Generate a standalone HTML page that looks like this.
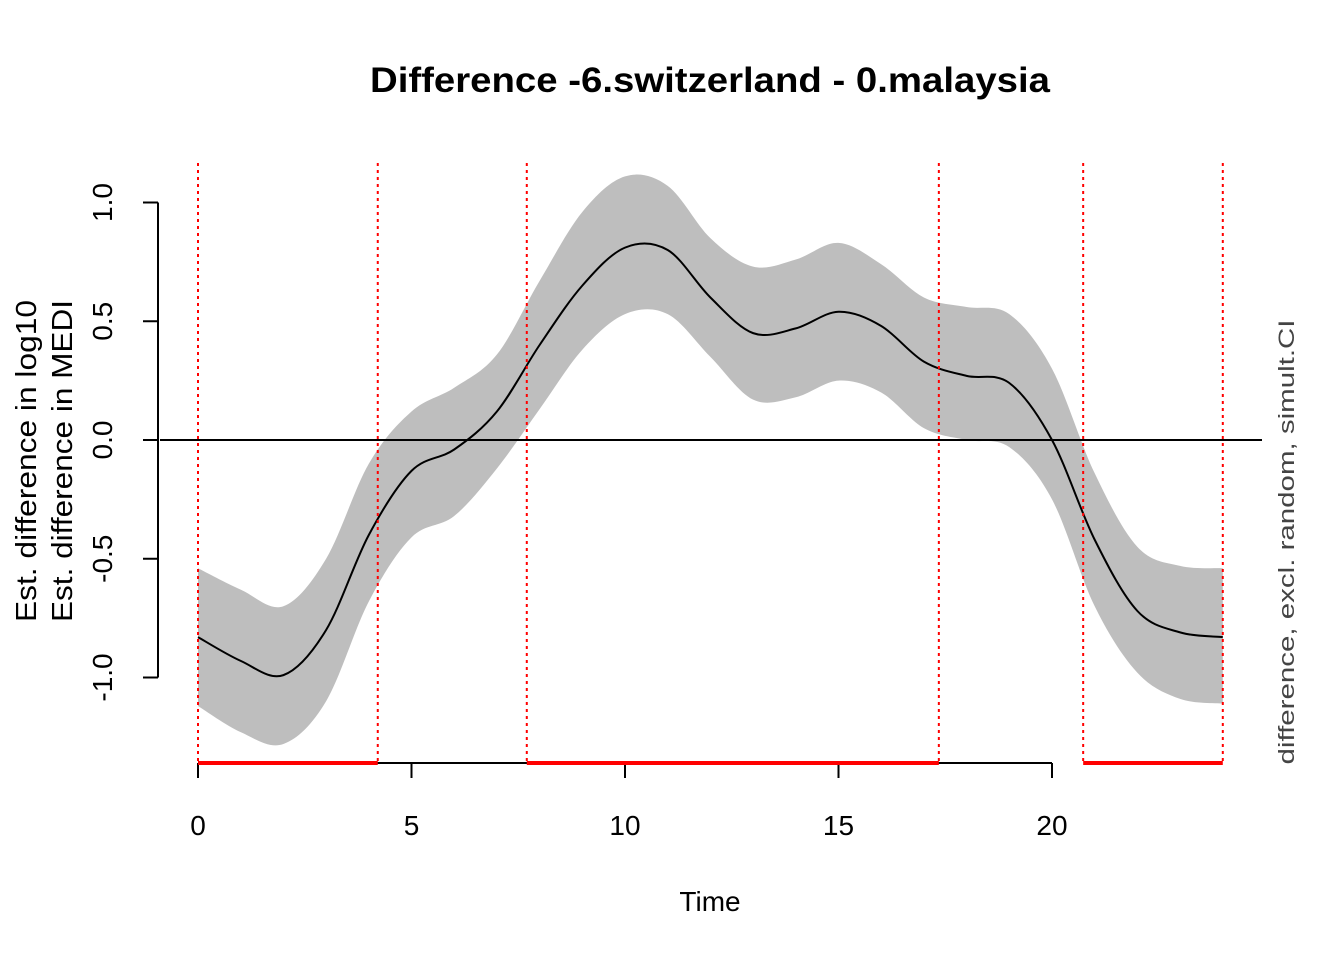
<!DOCTYPE html>
<html><head><meta charset="utf-8"><style>
body{margin:0;background:#fff}
svg text{font-family:"Liberation Sans",Arial,sans-serif}
</style></head><body>
<svg id="chart" width="1344" height="960" xmlns="http://www.w3.org/2000/svg">
<rect width="1344" height="960" fill="#fff"/>
<text x="710" y="92" font-size="35" font-weight="bold" text-anchor="middle" textLength="680" lengthAdjust="spacingAndGlyphs">Difference -6.switzerland - 0.malaysia</text>
<g id="plot"></g>
<text x="710" y="911" font-size="28" text-anchor="middle">Time</text>
<text transform="translate(36,461) rotate(-90)" font-size="29" text-anchor="middle" textLength="322" lengthAdjust="spacingAndGlyphs">Est. difference in log10</text>
<text transform="translate(72,461) rotate(-90)" font-size="29" text-anchor="middle" textLength="322" lengthAdjust="spacingAndGlyphs">Est. difference in MEDI</text>
<text transform="translate(1294,542) rotate(-90)" font-size="22" fill="#444" text-anchor="middle" textLength="445" lengthAdjust="spacingAndGlyphs">difference, excl. random, simult.CI</text>
</svg>
<script>
const times=[0,1,2,3,4,5,6,7,8,9,10,11,12,13,14,15,16,17,18,19,20,21,22,23,24];
const fit=[-0.83,-0.93,-0.99,-0.8,-0.4,-0.13,-0.04,0.12,0.4,0.65,0.81,0.8,0.6,0.45,0.47,0.54,0.48,0.33,0.27,0.24,0.0,-0.42,-0.72,-0.81,-0.83];
const upper=[-0.54,-0.63,-0.7,-0.5,-0.1,0.12,0.22,0.36,0.67,0.96,1.11,1.07,0.85,0.73,0.76,0.83,0.74,0.6,0.56,0.53,0.3,-0.14,-0.45,-0.53,-0.54];
const lower=[-1.12,-1.23,-1.28,-1.1,-0.68,-0.41,-0.32,-0.12,0.13,0.38,0.53,0.53,0.35,0.17,0.18,0.25,0.2,0.05,0.0,-0.03,-0.25,-0.7,-0.98,-1.09,-1.11];
const sigStarts=[0,7.7,20.73];
const sigEnds=[4.21,17.35,24];
const xTicks=[0,5,10,15,20];
const yTicks=[-1.0,-0.5,0.0,0.5,1.0];
const X=t=>198+t*(1052-198)/20;
const Y=v=>440-v*237.5;
const NS="http://www.w3.org/2000/svg";
const g=document.getElementById('plot');
function mk(tag,attrs){const e=document.createElementNS(NS,tag);for(const k in attrs)e.setAttribute(k,attrs[k]);g.appendChild(e);return e;}
function smooth(ts,vs){const p=ts.map((t,i)=>[X(t),Y(vs[i])]);let d='';
 for(let i=0;i<p.length-1;i++){const p0=p[Math.max(i-1,0)],p1=p[i],p2=p[i+1],p3=p[Math.min(i+2,p.length-1)];
  const c1=[p1[0]+(p2[0]-p0[0])/6,p1[1]+(p2[1]-p0[1])/6],c2=[p2[0]-(p3[0]-p1[0])/6,p2[1]-(p3[1]-p1[1])/6];
  if(i===0)d+='M'+p1[0]+','+p1[1];
  d+=` C${c1[0]},${c1[1]} ${c2[0]},${c2[1]} ${p2[0]},${p2[1]}`;}
 return d;}
const up=smooth(times,upper);
const loR=smooth(times.slice().reverse(),lower.slice().reverse()).replace(/^M/,'L');
const band=mk('path',{d:up+' '+loR+' Z',fill:'#bebebe',stroke:'none'});


const zl=mk('line',{x1:160,x2:1262,y1:Y(0),y2:Y(0),stroke:'#000','stroke-width':2});


const fl=mk('path',{d:smooth(times,fit),fill:'none',stroke:'#000','stroke-width':2});


const xa=mk('line',{x1:X(0),x2:X(20),y1:763,y2:763,stroke:'#000','stroke-width':2});


xTicks.forEach(t=>{mk('line',{x1:X(t),x2:X(t),y1:763,y2:778,stroke:'#000','stroke-width':2});
 const tx=mk('text',{x:X(t),y:835,'font-size':28,'text-anchor':'middle'});tx.textContent=t;
 
 });
sigStarts.concat(sigEnds).forEach(t=>{const l=mk('line',{x1:X(t),x2:X(t),y1:163,y2:763,stroke:'#f00','stroke-width':2,'stroke-dasharray':'3,4'});
 
 });
sigStarts.forEach((s,i)=>{const l=mk('line',{x1:X(s),x2:X(sigEnds[i]),y1:763,y2:763,stroke:'#f00','stroke-width':4});
 
 });
const ya=mk('line',{x1:158,x2:158,y1:Y(1),y2:Y(-1),stroke:'#000','stroke-width':2});


yTicks.forEach(v=>{mk('line',{x1:143,x2:158,y1:Y(v),y2:Y(v),stroke:'#000','stroke-width':2});
 const tx=mk('text',{transform:`translate(112,${Y(v)}) rotate(-90)`,'font-size':28,'text-anchor':'middle'});tx.textContent=v.toFixed(1);
 
 });
</script>
</body></html>
